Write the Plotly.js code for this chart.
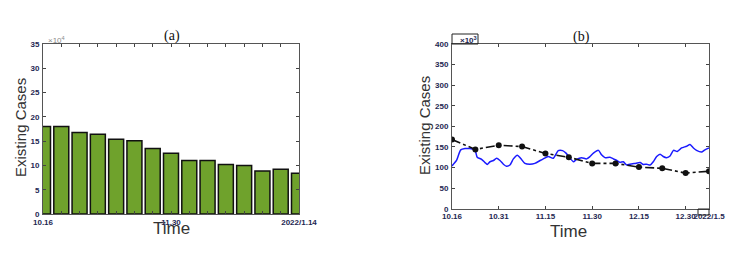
<!DOCTYPE html>
<html>
<head>
<meta charset="utf-8">
<script src="https://cdn.plot.ly/plotly-3.0.1.min.js"></script>
<style>html,body{margin:0;padding:0;background:#fff;}#chart{width:747px;height:254px;}</style>
</head>
<body>
<div id="chart"></div>
<script>
// Panel (a): existing cases (x10^4) per period
const barIndex = [0,1,2,3,4,5,6,7,8,9,10,11,12,13,14];
const barValues = [18.0,18.0,16.8,16.4,15.4,15.1,13.5,12.5,11.0,11.0,10.2,10.0,8.85,9.2,8.4];
const aTickVals = [0,7,14];
const aTickText = ["10.16","11.30","2022/1.14"];

// Panel (b): existing cases (x10^3); x in days since 10.16
const blueDays = [0,1.5,2.8,4.2,5.8,7.4,8.1,9.5,10.6,11.3,12.2,13.3,14.3,15.4,16.5,17.5,18.6,19.7,21.0,22.0,23.4,25.0,26.6,28.3,29.3,30.9,32.5,34.1,35.5,36.6,37.9,39.0,40.0,41.6,43.2,44.3,45.4,47.0,48.0,49.1,50.7,51.8,52.9,53.9,55.0,56.1,57.1,58.7,60.4,61.4,62.5,63.6,64.6,65.7,66.8,67.8,68.9,70.0,71.1,72.3,73.7,75.3,76.4,77.5,78.5,80.1,81.2,82.5];
const blueValues = [104,118,143,146,146,142,125,120,112,107.5,114,117,122.5,117,108,103,106,121,130,122.5,110,108,110,117,121,126.7,122.5,141,141,135,122.5,114,120,124,121,126.7,135,141.7,131,124,125,121,117,112.5,114,106,108,110,112,107.5,108,106,114,126.7,132.5,126.7,124,128,141.7,139,147.5,151.7,156,147.5,141.7,137.5,143,147.5];
const blackDays = [0,7.5,15,22.5,30,37.5,45,52.5,60,67.5,75,82.5];
const blackValues = [168,144,154,151,134,125,110,110,101,98,86.5,91];
const bTickVals = [0,15,30,45,60,75,82.5];
const bTickText = ["10.16","10.31","11.15","11.30","12.15","12.30","2022/1.5"];

const W = 747, H = 254;
const px = v => v / W, py = v => 1 - v / H;

const tickFont = {family: "Liberation Sans, Arial, sans-serif", size: 8, color: "#1e2752", weight: "bold"};
const axisCommon = {
  showline: true, linecolor: "#555", linewidth: 1, mirror: "ticks",
  ticks: "inside", ticklen: 3, tickcolor: "#444", showgrid: false, zeroline: false,
  tickfont: tickFont, fixedrange: true, tickangle: 0
};

const traces = [
  {
    type: "bar", x: barIndex, y: barValues, xaxis: "x", yaxis: "y",
    width: 0.82,
    marker: {color: "#6fa22c", line: {color: "#111", width: 1.5}},
    hoverinfo: "none"
  },
  {
    type: "scatter", mode: "lines", x: blueDays, y: blueValues, xaxis: "x2", yaxis: "y2",
    line: {color: "#1a1aff", width: 1.5, shape: "spline", smoothing: 0.6},
    hoverinfo: "none"
  },
  {
    type: "scatter", mode: "lines+markers", x: blackDays, y: blackValues, xaxis: "x2", yaxis: "y2",
    line: {color: "#111", width: 1.6, dash: "dashdot"},
    marker: {color: "#111", size: 6, symbol: "circle"},
    hoverinfo: "none"
  }
];

function ann(text, x, y, font, extra) {
  return Object.assign({text: text, xref: "paper", yref: "paper", x: px(x), y: py(y),
    xanchor: "center", yanchor: "middle", showarrow: false, font: font}, extra || {});
}
const serif = {family: "Liberation Serif, Times New Roman, serif", size: 14, color: "#111"};
const sans15 = {family: "Liberation Sans, Arial, sans-serif", size: 15, color: "#333"};
const sans17 = {family: "Liberation Sans, Arial, sans-serif", size: 17, color: "#333"};

const layout = {
  width: W, height: H,
  margin: {l: 0, r: 0, t: 0, b: 0},
  paper_bgcolor: "#fff", plot_bgcolor: "#fff",
  showlegend: false,
  bargap: 0,
  xaxis: Object.assign({}, axisCommon, {
    domain: [px(43), px(299)], anchor: "y",
    range: [0, 14],
    tickmode: "array", tickvals: barIndex,
    ticktext: barIndex.map(i => { const k = aTickVals.indexOf(i); return k >= 0 ? aTickText[k] : ""; }),
    ticklabelstandoff: 0
  }),
  yaxis: Object.assign({}, axisCommon, {
    domain: [py(214), py(44)], anchor: "x",
    range: [0, 35], dtick: 5, tick0: 0,
    ticklabelstandoff: 1
  }),
  xaxis2: Object.assign({}, axisCommon, {
    domain: [px(452), px(709)], anchor: "y2",
    range: [0, 82.5],
    tickmode: "array", tickvals: bTickVals, ticktext: bTickText,
    ticklabelstandoff: 0
  }),
  yaxis2: Object.assign({}, axisCommon, {
    domain: [py(208.7), py(44)], anchor: "x2",
    range: [0, 400], dtick: 50, tick0: 0,
    ticklabelstandoff: 1
  }),
  annotations: [
    ann("(a)", 172, 36, serif),
    ann("(b)", 581, 37, serif),
    ann("Existing Cases", 20, 128, sans15, {textangle: -90}),
    ann("Existing Cases", 424, 125, sans15, {textangle: -90}),
    ann("Time", 171, 228, sans17),
    ann("Time", 568, 231, sans17),
    ann("×10<sup>4</sup>", 46, 40, {family: "Liberation Sans, Arial, sans-serif", size: 8, color: "#8a8a8a"}, {xanchor: "left"}),
    ann("×10<sup>3</sup>", 458, 40, {family: "Liberation Sans, Arial, sans-serif", size: 8, color: "#1e2752", weight: "bold"}, {xanchor: "left"})
  ],
  shapes: [
    {type: "rect", xref: "paper", yref: "paper", x0: px(452), x1: px(478), y0: py(44), y1: py(34),
     line: {color: "#222", width: 1}, fillcolor: "rgba(0,0,0,0)"},
    {type: "rect", xref: "paper", yref: "paper", x0: px(698), x1: px(709), y0: py(215), y1: py(209),
     line: {color: "#222", width: 1}, fillcolor: "rgba(0,0,0,0)"}
  ]
};

Plotly.newPlot("chart", traces, layout, {displayModeBar: false, staticPlot: true});
</script>
</body>
</html>
